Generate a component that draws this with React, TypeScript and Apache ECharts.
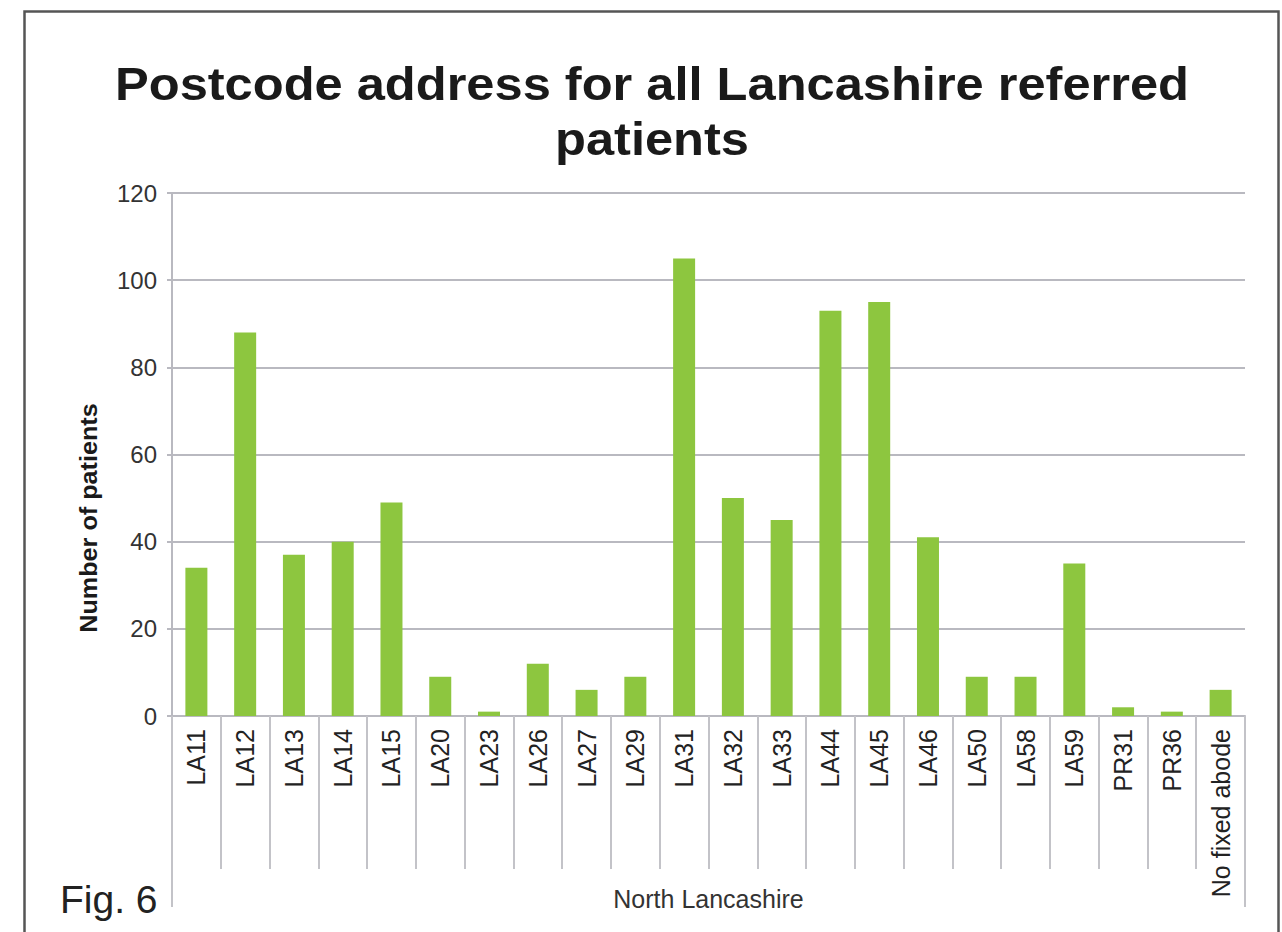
import React, { useEffect, useRef } from "react";
import * as echarts from "echarts";

const categories: string[] = [
  "LA11", "LA12", "LA13", "LA14", "LA15", "LA20", "LA23", "LA26", "LA27", "LA29",
  "LA31", "LA32", "LA33", "LA44", "LA45", "LA46", "LA50", "LA58", "LA59", "PR31",
  "PR36", "No fixed abode",
];
const patients: number[] = [
  34, 88, 37, 40, 49, 9, 1, 12, 6, 9,
  105, 50, 45, 93, 95, 41, 9, 9, 35, 2,
  1, 6,
];
const groupLabels: string[] = ["North Lancashire"];
const yTicks = { min: 0, max: 120, interval: 20 };

const titleLines: string[] = ["Postcode address for all Lancashire referred", "patients"];
const yAxisTitle = "Number of patients";
const figLabel = "Fig. 6";

const FONT = "'Liberation Sans', Arial, Helvetica, sans-serif";

export default function App() {
  const ref = useRef<HTMLDivElement>(null);
  useEffect(() => {
    if (!ref.current) return;
    const chart = echarts.init(ref.current, undefined, { renderer: "svg" });
    const gridColor = "#b9b9c0";
    const titleStyle = {
      fontFamily: FONT,
      fontSize: 46,
      fontWeight: "bold",
      fill: "#1a1a1a",
      align: "center",
      verticalAlign: "middle",
    };
    chart.setOption({
      animation: false,
      backgroundColor: "#ffffff",
      grid: {
        left: 172,
        right: 37,
        top: 193,
        bottom: 216,
        containLabel: false,
        outerBoundsMode: "none",
      },
      xAxis: [
        {
          type: "category",
          data: categories,
          position: "bottom",
          axisLine: { show: true, lineStyle: { color: gridColor, width: 2 } },
          axisTick: {
            show: true,
            interval: 0,
            length: 153,
            lineStyle: { color: "#c3c3c8", width: 2 },
          },
          axisLabel: {
            interval: 0,
            rotate: 90,
            margin: 13,
            fontFamily: FONT,
            fontSize: 25,
            color: "#222222",
          },
        },
        {
          type: "category",
          data: groupLabels,
          position: "bottom",
          axisLine: { show: false },
          axisTick: {
            show: true,
            length: 191,
            lineStyle: { color: "#c3c3c8", width: 2 },
          },
          axisLabel: {
            margin: 170,
            fontFamily: FONT,
            fontSize: 25,
            color: "#333333",
          },
        },
      ],
      yAxis: {
        type: "value",
        min: yTicks.min,
        max: yTicks.max,
        interval: yTicks.interval,
        axisLine: { show: true, lineStyle: { color: gridColor, width: 2 } },
        axisTick: { show: true, length: 5, lineStyle: { color: gridColor, width: 2 } },
        splitLine: { show: true, lineStyle: { color: gridColor, width: 2 } },
        axisLabel: {
          margin: 15,
          fontFamily: FONT,
          fontSize: 24,
          color: "#333333",
        },
      },
      series: [
        {
          type: "bar",
          xAxisIndex: 0,
          data: patients,
          barWidth: 22,
          itemStyle: { color: "#8dc63f" },
        },
      ],
      graphic: [
        {
          type: "rect",
          shape: { x: 24.5, y: 11.5, width: 1254, height: 940 },
          style: { fill: "none", stroke: "#555555", lineWidth: 2.5 },
          silent: true,
        },
        {
          type: "text",
          x: 652,
          y: 84,
          scaleX: 1.1,
          style: { ...titleStyle, text: titleLines[0] },
        },
        {
          type: "text",
          x: 652,
          y: 139,
          scaleX: 1.1,
          style: { ...titleStyle, text: titleLines[1] },
        },
        {
          type: "text",
          x: 89,
          y: 518,
          rotation: Math.PI / 2,
          scaleX: 1.05,
          style: {
            text: yAxisTitle,
            fontFamily: FONT,
            fontSize: 24,
            fontWeight: "bold",
            fill: "#1a1a1a",
            align: "center",
            verticalAlign: "middle",
          },
        },
        {
          type: "text",
          x: 60,
          y: 899,
          style: {
            text: figLabel,
            fontFamily: FONT,
            fontSize: 39,
            fill: "#222222",
            align: "left",
            verticalAlign: "middle",
          },
        },
      ],
    });
    return () => chart.dispose();
  }, []);
  return (
    <div
      ref={ref}
      style={{ position: "absolute", left: 0, top: 0, width: 1282, height: 932 }}
    />
  );
}
